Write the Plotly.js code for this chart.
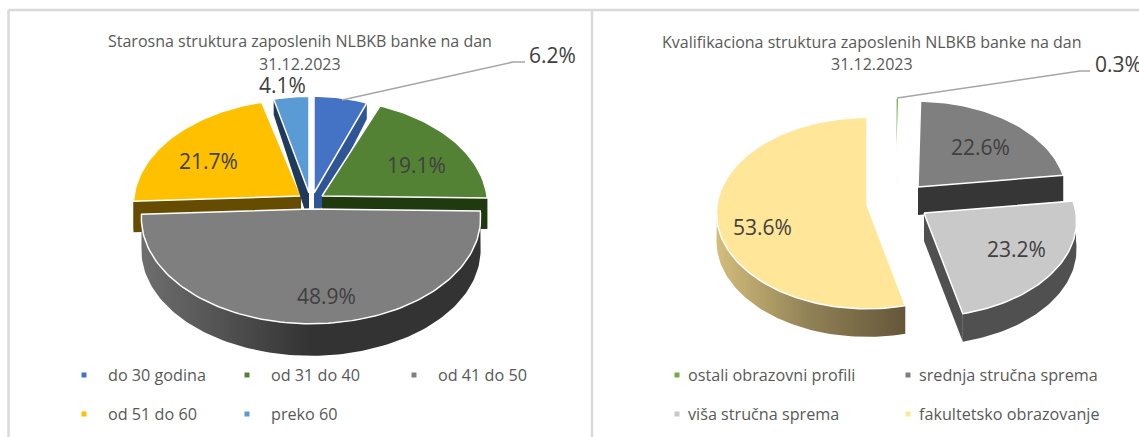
<!DOCTYPE html>
<html><head><meta charset="utf-8">
<script src="https://cdn.plot.ly/plotly-3.0.1.min.js"></script>
<style>html,body{margin:0;padding:0;background:#fff}#c{width:1139px;height:437px}</style>
</head><body><div id="c"></div>
<script>
// ---- data ----
const ageCategories = ["do 30 godina","od 31 do 40","od 41 do 50","od 51 do 60","preko 60"];
const ageValues = [6.2,19.1,48.9,21.7,4.1];
const ageColors = ["#4472c4","#548235","#7f7f7f","#ffc000","#5b9bd5"];
const eduCategories = ["ostali obrazovni profili","srednja stručna sprema","viša stručna sprema","fakultetsko obrazovanje"];
const eduValues = [0.3,22.6,23.2,53.6];
const eduColors = ["#70ad47","#7f7f7f","#c9c9c9","#ffe699"];
const ageTitle = ["Starosna struktura zaposlenih NLBKB banke na dan","31.12.2023"];
const eduTitle = ["Kvalifikaciona struktura zaposlenih NLBKB banke na dan","31.12.2023"];

// ---- drawing geometry (pixel-sized axes, 1 unit = 1 px) ----
const FONT = "Open Sans, sans-serif";
const W = 1139, H = 437, K = 0.085;
const ageGeom = [
 {cx:314,cy:193,rx:150,ry:105,d:30,wall:"#2f5597",order:0,lab:[552,55]},
 {cx:322,cy:196,rx:165,ry:105,d:31,wall:"#203a10",order:1,lab:[416,165]},
 {cx:311,cy:209,rx:169,ry:105,d:32,wall:{g:["#6e6e6e","#333333","#333333"]},order:4,lab:[326,296]},
 {cx:301,cy:196,rx:167,ry:105,d:31,wall:"#664c00",order:2,lab:[208,161]},
 {cx:309,cy:193,rx:150,ry:105,d:30,wall:"#1f3a5a",order:3,lab:[282,85]}
];
const eduGeom = [
 {cx:896,cy:187,rx:148,ry:96,d:0,wall:"#ffffff",order:0,thin:true,lab:[1118.5,64]},
 {cx:918,cy:187,rx:148,ry:93,d:28,wall:"#363636",order:1,lab:[980,147]},
 {cx:924,cy:213,rx:152,ry:95,d:28,wall:"#505050",order:3,lab:[1016,249]},
 {cx:867,cy:205,rx:150,ry:95,d:28,wall:{g:["#d4bd7c","#8f8055","#65563a"]},order:2,lab:[762,227]}
];
const leaders = [
 [[342,100],[513,62],[525,62]],
 [[897,98],[1080,71],[1090,71]]
];

function pt(g,deg,off){
  const a=deg*Math.PI/180,u=Math.sin(a),v=Math.cos(a),w=1+K*v;
  const dep=off?(g.d-(g.d*0.5)*Math.max(0,v)):0;
  return [g.cx+g.rx*u/w, g.cy-g.ry*v/w+dep];
}
function arc(g,a0,a1,off){
  const n=Math.max(2,Math.ceil(Math.abs(a1-a0)/1.5)),p=[];
  for(let i=0;i<=n;i++)p.push(pt(g,a0+(a1-a0)*i/n,off));
  return p;
}
function poly(points,style,name){
  const x=points.map(p=>p[0]),y=points.map(p=>p[1]);
  x.push(x[0]);y.push(y[0]);
  return Object.assign({type:"scatter",mode:"lines",x,y,fill:"toself",hoverinfo:"skip",showlegend:false,name},style);
}
function wallStyle(w){
  if(typeof w==="string")return {fillcolor:w,line:{width:0,color:w}};
  const n=w.g.length-1;
  return {line:{width:0,color:w.g[n]},fillgradient:{type:"horizontal",colorscale:w.g.map((c,i)=>[i/n,c])}};
}
function pie(values,geom,colors,names){
  const tot=values.reduce((a,b)=>a+b,0);let acc=0;
  const parts=values.map((val,i)=>{const a0=acc/tot*360;acc+=val;return {i,a0,a1:acc/tot*360,g:geom[i]};});
  const out=[];
  parts.slice().sort((p,q)=>p.g.order-q.g.order).forEach(s=>{
    const g=s.g,c=colors[s.i],nm=names[s.i];
    if(g.d>0){
      const ap0=[g.cx,g.cy],ap1=[g.cx,g.cy+g.d];
      const st=wallStyle(g.wall);
      const e0=pt(g,s.a0),e0b=pt(g,s.a0,true),e1=pt(g,s.a1),e1b=pt(g,s.a1,true);
      if(typeof g.wall==="string"){
        out.push(poly([ap0,e0,e0b,ap1],{fillcolor:g.wall,line:{width:0}},nm+" side"));
        out.push(poly([ap0,e1,e1b,ap1],{fillcolor:g.wall,line:{width:0}},nm+" side"));
      }
      const lo=Math.max(s.a0,90),hi=Math.min(s.a1,270);
      if(hi>lo){
        const t=arc(g,lo,hi,false),b=arc(g,lo,hi,true).reverse();
        out.push(poly(t.concat(b),st,nm+" rim"));
      }
    }
    const top=[[g.cx,g.cy]].concat(arc(g,s.a0,s.a1,false));
    out.push(poly(top,{fillcolor:c,line:{color:"#ffffff",width:g.thin?1.2:1.5}},nm));
  });
  return out;
}
const traces=[...pie(ageValues,ageGeom,ageColors,ageCategories),...pie(eduValues,eduGeom,eduColors,eduCategories)];

leaders.forEach(l=>traces.push({type:"scatter",mode:"lines",x:l.map(p=>p[0]),y:l.map(p=>p[1]),
  line:{color:"#a6a6a6",width:1.5},hoverinfo:"skip",showlegend:false}));

const legendSlots=[
 {cats:ageCategories,cols:ageColors,at:[[84,375],[247,375],[414,375],[84,414],[247,414]],gap:22},
 {cats:eduCategories,cols:eduColors,at:[[677,375],[908,375],[677,414],[908,414]],gap:9}
];
const annotations=[];
function txt(t,x,y,size,color,anchor){
  annotations.push({text:t,x,y,xref:"x",yref:"y",showarrow:false,xanchor:anchor||"center",yanchor:"middle",
    font:{family:FONT,size,color},align:"center"});
}
legendSlots.forEach(L=>{
  traces.push({type:"scatter",mode:"markers",x:L.at.map(p=>p[0]),y:L.at.map(p=>p[1]),
    marker:{symbol:"square",size:5,color:L.cols},hoverinfo:"skip",showlegend:false});
  L.cats.forEach((c,i)=>txt(c,L.at[i][0]+L.gap,L.at[i][1],16.2,"#595959","left"));
});
txt(ageTitle[0],300,41,16,"#595959");
txt(ageTitle[1],300,64,16,"#595959");
txt(eduTitle[0],872,42,16,"#595959");
txt(eduTitle[1],872,64,16,"#595959");
ageValues.forEach((v,i)=>txt(v.toFixed(1)+"%",ageGeom[i].lab[0],ageGeom[i].lab[1],21,"#404040"));
eduValues.forEach((v,i)=>txt(v.toFixed(1)+"%",eduGeom[i].lab[0],eduGeom[i].lab[1],21,"#404040"));

const frame={color:"#d9d9d9",width:2.5};
const shapes=[
 {type:"line",x0:8.5,x1:8.5,y0:10,y1:H,line:frame},
 {type:"line",x0:8.5,x1:W,y0:10,y1:10,line:frame},
 {type:"line",x0:592,x1:592,y0:10,y1:H,line:frame}
];
Plotly.newPlot("c",traces,{
  width:W,height:H,margin:{l:0,r:0,t:0,b:0},paper_bgcolor:"#fff",plot_bgcolor:"#fff",showlegend:false,
  xaxis:{range:[0,W],visible:false,fixedrange:true},
  yaxis:{range:[H,0],visible:false,fixedrange:true},
  shapes,annotations,hovermode:false
},{staticPlot:true,displayModeBar:false});
</script></body></html>
